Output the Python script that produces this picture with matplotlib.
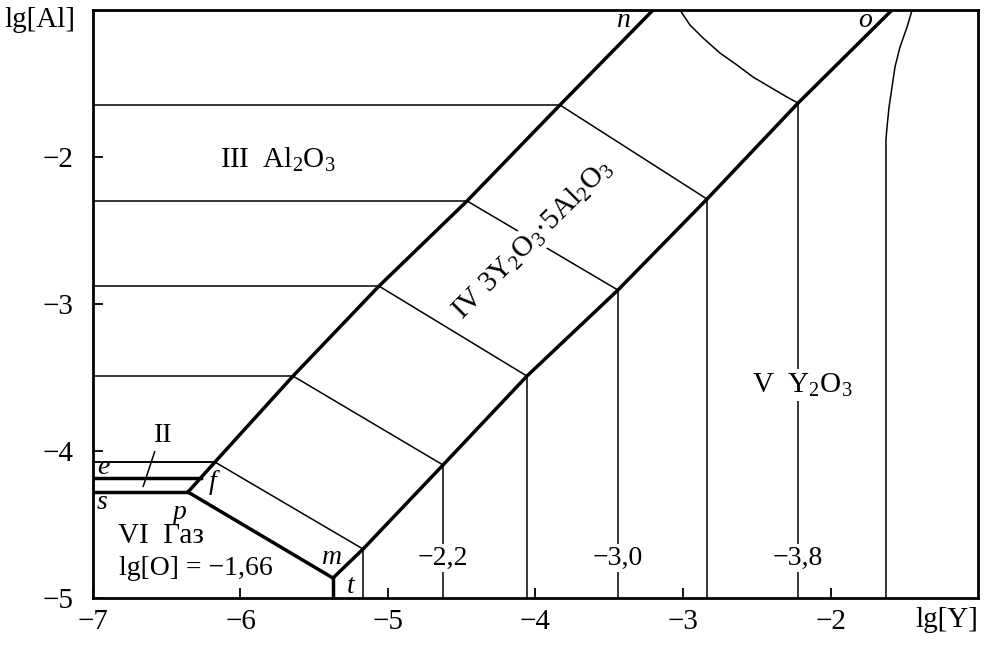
import numpy as np
import matplotlib
matplotlib.use("Agg")
import matplotlib.pyplot as plt

plt.rcParams['font.family'] = ['Liberation Serif', 'DejaVu Serif']
plt.rcParams['mathtext.fontset'] = 'custom'
plt.rcParams['mathtext.rm'] = 'Liberation Serif'
plt.rcParams['mathtext.it'] = 'Liberation Serif:italic'

# boundary of region IV (3Y2O3*5Al2O3), lg[Y] / lg[Al]
upper_x = [-6.356, -6.173, -5.644, -5.061, -4.464, -3.834, -3.203]
upper_y = [-4.279, -4.075, -3.490, -2.878, -2.299, -1.646, -1.000]
lower_x = [-5.373, -5.169, -4.627, -4.058, -3.441, -2.837, -2.220, -1.583]
lower_y = [-4.864, -4.667, -4.095, -3.490, -2.905, -2.286, -1.633, -1.000]

# curved parts of the lg[O] isolines near the top
arc_x = [-3.020, -2.953, -2.864, -2.749, -2.634, -2.525, -2.410, -2.295, -2.220]
arc_y = [-1.000, -1.102, -1.190, -1.293, -1.374, -1.456, -1.524, -1.592, -1.633]
edge_x = [-1.447, -1.481, -1.529, -1.563, -1.583, -1.603, -1.617, -1.624, -1.624]
edge_y = [-1.000, -1.116, -1.252, -1.388, -1.524, -1.660, -1.796, -1.884, -5.000]

# small region II between the gas and Al2O3
line_e = -4.075
line_ii = -4.184
line_s = -4.279

iso_labels = ['−2,2', '−3,0', '−3,8']
iso_idx = [2, 4, 6]
iso_label_y = -4.728

xticks = [-7, -6, -5, -4, -3, -2]
yticks = [-2, -3, -4, -5]

fig = plt.figure(figsize=(9.85, 6.47), dpi=100)
ax = fig.add_axes([0.0944, 0.0757, 0.8985, 0.9088])
ax.set_xlim(-7, -1)
ax.set_ylim(-5, -1)

thin = dict(color='black', lw=1.1, solid_capstyle='butt')
bold = dict(color='black', lw=2.5, solid_joinstyle='miter')

# horizontal isolines in Al2O3 field, slanted in IV, vertical in Y2O3 field
for i in range(1, 6):
    yy = upper_y[i]
    ax.plot([-7, upper_x[i]], [yy, yy], **thin)
for i in range(1, 6):
    ax.plot([upper_x[i], lower_x[i]], [upper_y[i], lower_y[i]], **thin)
for i in range(1, 7):
    ax.plot([lower_x[i], lower_x[i]], [lower_y[i], -5], **thin)
ax.plot(arc_x, arc_y, **thin)
ax.plot(edge_x, edge_y, **thin)

# region II lines
ax.plot([-7, upper_x[1]], [line_e, line_e], **thin)
x_ii = np.interp(line_ii, upper_y[:2], upper_x[:2])
ax.plot([-7, x_ii], [line_ii, line_ii], **bold)
ax.plot([-7, upper_x[0]], [line_s, line_s], **bold)

# bold phase boundaries
ax.plot(upper_x, upper_y, **bold)
ax.plot(lower_x, lower_y, **bold)
ax.plot([upper_x[0], lower_x[0]], [upper_y[0], lower_y[0]], **bold)
ax.plot([lower_x[0], lower_x[0]], [lower_y[0], -5], **bold)

# pointer for II
ax.plot([-6.580, -6.661], [-4.0, -4.245], **thin)

fs = 21
fs2 = 20
wb = dict(facecolor='white', edgecolor='none', pad=1.5)
ax.text(-5.746, -2.02, 'III  Al$_{\\mathrm{2}}$O$_{\\mathrm{3}}$', fontsize=fs,
        ha='center', va='center')
ax.text(-4.02, -2.56, 'IV 3Y$_{\\mathrm{2}}$O$_{\\mathrm{3}}$·5Al$_{\\mathrm{2}}$O$_{\\mathrm{3}}$',
        fontsize=fs, ha='center', va='center', rotation=45,
        rotation_mode='anchor', bbox=wb)
ax.text(-2.193, -3.551, 'V  Y$_{\\mathrm{2}}$O$_{\\mathrm{3}}$', fontsize=fs,
        ha='center', va='center', bbox=wb)
ax.text(-6.831, -4.578, 'VI  Газ', fontsize=fs, ha='left', va='center')
ax.text(-6.824, -4.796, 'lg[O] = −1,66', fontsize=fs2, ha='left', va='center')
ax.text(-6.525, -3.891, 'II', fontsize=fs2, ha='center', va='center')

for lab, i in zip(iso_labels, iso_idx):
    ax.text(lower_x[i], iso_label_y, lab, fontsize=fs2, ha='center',
            va='center', bbox=wb)

letters = ['n', 'o', 'e', 's', 'p', 'f', 'm', 't']
let_x = [-3.407, -1.766, -6.932, -6.939, -6.410, -6.190, -5.380, -5.251]
let_y = [-1.068, -1.068, -4.112, -4.347, -4.415, -4.215, -4.721, -4.925]
for lab, lx, ly in zip(letters, let_x, let_y):
    ax.text(lx, ly, lab, fontsize=fs2, style='italic', ha='center', va='center')

ax.set_xticks(xticks)
ax.set_xticklabels(['−7', '−6', '−5', '−4', '−3', '−2'])
ax.set_yticks(yticks)
ax.set_yticklabels(['−2', '−3', '−4', '−5'])
ax.tick_params(direction='in', length=7, width=1.3, labelsize=fs)
ax.tick_params(axis='x', pad=8)
ax.tick_params(axis='y', pad=14)
for sp in ax.spines.values():
    sp.set_linewidth(2.0)

ax.text(-0.02, 0.983, 'lg[Al]', transform=ax.transAxes, fontsize=fs,
        ha='right', va='center')
ax.text(0.965, -0.037, 'lg[Y]', transform=ax.transAxes, fontsize=fs,
        ha='center', va='center')

fig.savefig('out.png', dpi=100)
